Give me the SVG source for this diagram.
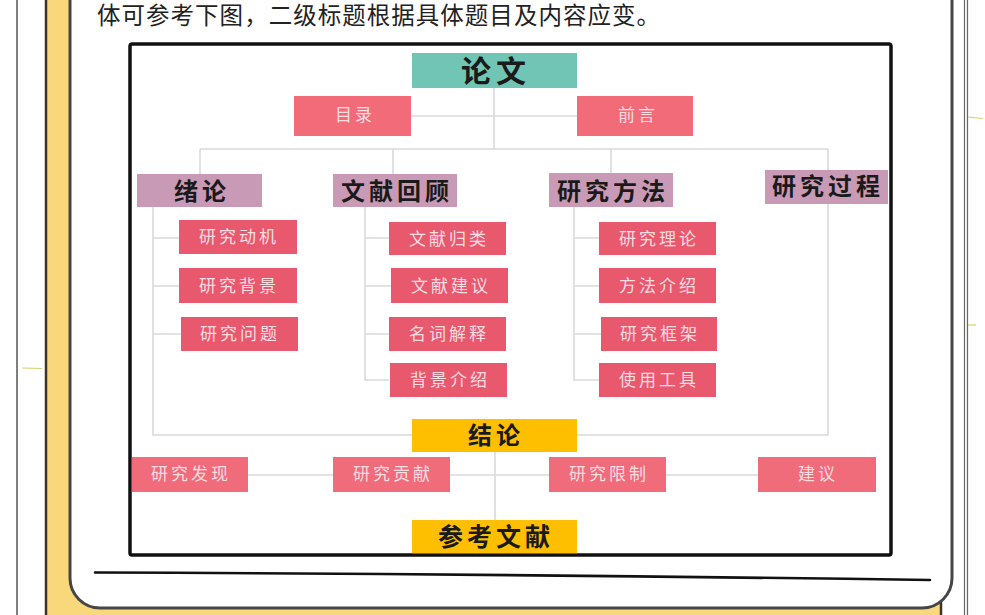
<svg xmlns="http://www.w3.org/2000/svg" width="985" height="615" viewBox="0 0 985 615">
<style>
.conn{stroke:#d9d9e0;stroke-width:1.6;fill:none}
.teal{fill:#71c5b5}
.top{fill:#f26b79}
.sec{fill:#c99ab6}
.sub{fill:#e9596e}
.bot{fill:#f06c7b}
.gold{fill:#fdbf00}
.hd{font-family:"Noto Sans CJK SC","Noto Sans CJK JP",sans-serif;font-weight:700;fill:#1a1a1a;text-anchor:middle;dominant-baseline:central}
.lb{font-family:"Noto Sans CJK SC","Noto Sans CJK JP",sans-serif;font-weight:400;fill:#f9dde1;text-anchor:middle;dominant-baseline:central;font-size:17px;letter-spacing:3px}
</style>
<rect x="0" y="0" width="985" height="615" fill="#ffffff"/>
<line x1="17" y1="0" x2="17" y2="615" stroke="#555" stroke-width="1.5"/>
<line x1="964.5" y1="0" x2="964.5" y2="615" stroke="#666" stroke-width="1.2"/>
<line x1="967.5" y1="0" x2="967.5" y2="615" stroke="#666" stroke-width="1.2"/>
<line x1="22" y1="368" x2="42" y2="368.5" stroke="#d6d070" stroke-width="1.2"/>
<line x1="968" y1="117" x2="983" y2="118.5" stroke="#d6d070" stroke-width="1.2"/>
<line x1="968" y1="325" x2="976" y2="325" stroke="#d6d070" stroke-width="1.2"/>
<rect x="46" y="-40" width="895" height="700" rx="30" fill="#f9d87c" stroke="#3d3526" stroke-width="2.5"/>
<rect x="70" y="-40" width="882" height="648" rx="30" fill="#ffffff" stroke="#464646" stroke-width="3"/>
<path d="M95,572.5 Q500,574 930,580" stroke="#111" stroke-width="2.6" fill="none" stroke-linecap="round"/>
<text x="97" y="24" font-family="'Noto Sans CJK SC','Noto Sans CJK JP',sans-serif" font-size="23.5" fill="#222" textLength="563" lengthAdjust="spacing">体可参考下图，二级标题根据具体题目及内容应变。</text>
<rect x="130" y="44" width="761" height="511" rx="2" fill="#ffffff" stroke="#111" stroke-width="3"/>
<g id="connectors">
<path class="conn" d="M494,88 V149"/>
<path class="conn" d="M411,116 H577"/>
<path class="conn" d="M200,149 H828"/>
<path class="conn" d="M200,149 V174 M393,149 V174 M611,149 V173 M828,149 V170"/>
<path class="conn" d="M153,207 V435 H412 M153,238 H179 M153,286 H179 M153,334 H181"/>
<path class="conn" d="M365,207 V380 H389 M365,238 H389 M365,286 H391 M365,334 H389"/>
<path class="conn" d="M574,207 V380 H599 M574,238 H599 M574,286 H599 M574,334 H601"/>
<path class="conn" d="M828,204 V435 H577"/>
<path class="conn" d="M248,475 H333 M450,475 H549 M666,475 H758"/>
<path class="conn" d="M495,452 V520"/>
</g>
<g id="lunwen"><rect class="teal" x="412" y="53" width="165" height="35"/><text class="hd" x="496" y="69" font-size="30" letter-spacing="5">论文</text></g>
<g id="mulu"><rect class="top" x="294" y="96" width="117" height="40"/><text class="lb" x="355" y="113" font-size="15" letter-spacing="5">目录</text></g>
<g id="qianyan"><rect class="top" x="577" y="96" width="116" height="40"/><text class="lb" x="638" y="113" font-size="15" letter-spacing="5">前言</text></g>
<g id="xulun"><rect class="sec" x="137" y="174" width="125" height="33"/><text class="hd" x="202" y="189" font-size="24" letter-spacing="4">绪论</text></g>
<g id="wenxianhuigu"><rect class="sec" x="333" y="174" width="124" height="33"/><text class="hd" x="397" y="189" font-size="24" letter-spacing="4">文献回顾</text></g>
<g id="yanjiufangfa"><rect class="sec" x="549" y="173" width="124" height="34"/><text class="hd" x="613" y="189" font-size="24" letter-spacing="4">研究方法</text></g>
<g id="yanjiuguocheng"><rect class="sec" x="765" y="170" width="123" height="34"/><text class="hd" x="828" y="184" font-size="24" letter-spacing="4">研究过程</text></g>
<g id="dongji"><rect class="sub" x="179" y="220" width="118" height="34"/><text class="lb" x="239" y="235">研究动机</text></g>
<g id="beijing"><rect class="sub" x="179" y="268" width="118" height="35"/><text class="lb" x="239" y="284">研究背景</text></g>
<g id="wenti"><rect class="sub" x="181" y="317" width="117" height="34"/><text class="lb" x="240" y="332">研究问题</text></g>
<g id="guilei"><rect class="sub" x="389" y="222" width="117" height="33"/><text class="lb" x="449" y="237">文献归类</text></g>
<g id="jianyi1"><rect class="sub" x="391" y="268" width="117" height="35"/><text class="lb" x="451" y="284">文献建议</text></g>
<g id="jieshi"><rect class="sub" x="389" y="317" width="117" height="34"/><text class="lb" x="449" y="332">名词解释</text></g>
<g id="beijingjieshao"><rect class="sub" x="390" y="363" width="117" height="34"/><text class="lb" x="450" y="378">背景介绍</text></g>
<g id="lilun"><rect class="sub" x="599" y="222" width="117" height="33"/><text class="lb" x="659" y="237">研究理论</text></g>
<g id="fangfajieshao"><rect class="sub" x="599" y="268" width="117" height="35"/><text class="lb" x="659" y="284">方法介绍</text></g>
<g id="kuangjia"><rect class="sub" x="601" y="317" width="116" height="34"/><text class="lb" x="660" y="332">研究框架</text></g>
<g id="gongju"><rect class="sub" x="599" y="363" width="117" height="34"/><text class="lb" x="659" y="378">使用工具</text></g>
<g id="jielun"><rect class="gold" x="412" y="419" width="165" height="33"/><text class="hd" x="496" y="433" font-size="24" letter-spacing="4">结论</text></g>
<g id="faxian"><rect class="bot" x="131" y="457" width="117" height="35"/><text class="lb" x="191" y="472">研究发现</text></g>
<g id="gongxian"><rect class="bot" x="333" y="457" width="117" height="35"/><text class="lb" x="393" y="472">研究贡献</text></g>
<g id="xianzhi"><rect class="bot" x="549" y="457" width="117" height="35"/><text class="lb" x="609" y="472">研究限制</text></g>
<g id="jianyi"><rect class="bot" x="758" y="457" width="118" height="35"/><text class="lb" x="818" y="472">建议</text></g>
<g id="cankao"><rect class="gold" x="412" y="520" width="165" height="35"/><text class="hd" x="496" y="535" font-size="25" letter-spacing="4">参考文献</text></g>
<rect x="130" y="44" width="761" height="511" rx="2" fill="none" stroke="#111" stroke-width="3"/>
</svg>
